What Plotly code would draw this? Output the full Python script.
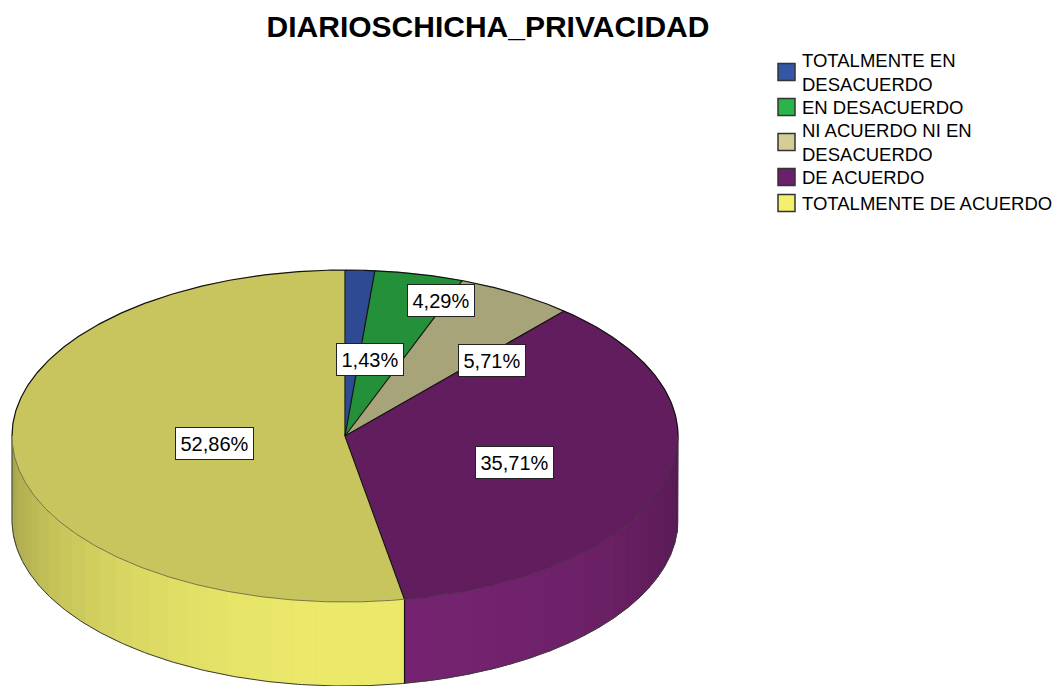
import numpy as np
import plotly.graph_objects as go

# ---------------- data ----------------
categories = ["TOTALMENTE EN DESACUERDO", "EN DESACUERDO", "NI ACUERDO NI EN DESACUERDO",
              "DE ACUERDO", "TOTALMENTE DE ACUERDO"]
legend_labels = ["TOTALMENTE EN<br>DESACUERDO", "EN DESACUERDO", "NI ACUERDO NI EN<br>DESACUERDO",
                 "DE ACUERDO", "TOTALMENTE DE ACUERDO"]
percentages = [1.43, 4.29, 5.71, 35.71, 52.86]
title_text = "DIARIOSCHICHA_PRIVACIDAD"

# ---------------- style ----------------
top_colors = ["#2e4a93", "#24913a", "#a8a47a", "#621d5e", "#c9c55e"]
legend_colors = ["#3457a8", "#2bb44a", "#d4ce96", "#6b1f6c", "#f3f06c"]
side_base = [(57, 92, 180), (44, 176, 72), (206, 200, 150), (118, 36, 113), (236, 233, 107)]
label_pos = [(370, 359), (441, 300), (492, 360), (514, 462), (214, 443)]
legend_centers = [72, 107, 142, 177, 203]
FONT = "Liberation Sans, Arial, sans-serif"

# page has an 8px body margin: make figure coordinates equal page pixel coordinates
OFF = 8
PW, PH = 1063, 686
W, H = PW - OFF, PH - OFF
CX, CY, RX, RY, DEPTH = 345, 436, 333, 166, 84


def pt(t_deg, dy=0.0):
    t = np.radians(t_deg)
    return CX + RX * np.sin(t), CY - RY * np.cos(t) + dy


def arc(t0, t1, dy=0.0, step=0.5):
    n = max(2, int(abs(t1 - t0) / step) + 1)
    ts = np.linspace(t0, t1, n)
    x, y = pt(ts, dy)
    return list(x), list(y)


fig = go.Figure()

vals = np.array(percentages, dtype=float)
cum = np.concatenate([[0], np.cumsum(vals)]) / vals.sum() * 360.0

# ---- side walls (front half, 90..270 deg clockwise from top) ----
for i in range(len(vals)):
    lo, hi = max(cum[i], 90.0), min(cum[i + 1], 270.0)
    if hi <= lo:
        continue
    nstrip = int(np.ceil((hi - lo) / 4.0))
    edges = np.linspace(lo, hi, nstrip + 1)
    for k in range(nstrip):
        a, b = edges[k], min(edges[k + 1] + 0.4, hi)
        tm = 0.5 * (edges[k] + edges[k + 1])
        f = 0.70 + 0.30 * np.cos(np.radians(tm - 178.0))
        r, g, bl = [int(min(255, c * f)) for c in side_base[i]]
        col = f"rgb({r},{g},{bl})"
        xt, yt = arc(a, b)
        xb, yb = arc(b, a, DEPTH)
        fig.add_trace(go.Scatter(x=xt + xb + [xt[0]], y=yt + yb + [yt[0]], mode="lines",
                                 fill="toself", fillcolor=col, line=dict(color=col, width=0.6),
                                 hoverinfo="skip", showlegend=False))

# side outline
xr, yr = pt(90.0)
xl, yl = pt(270.0)
xb, yb = arc(90.0, 270.0, DEPTH)
fig.add_trace(go.Scatter(x=[xr] + xb + [xl], y=[yr] + yb + [yl], mode="lines",
                         line=dict(color="#3a3a3a", width=1), hoverinfo="skip", showlegend=False))
# seams between slices on the side
for c in cum:
    cc = c % 360
    if 90.0 < cc < 270.0:
        x0, y0 = pt(cc)
        fig.add_trace(go.Scatter(x=[x0, x0], y=[y0, y0 + DEPTH], mode="lines",
                                 line=dict(color="#111111", width=1.2), hoverinfo="skip",
                                 showlegend=False))

# ---- top face slices ----
for i in range(len(vals)):
    xa, ya = arc(cum[i], cum[i + 1])
    fig.add_trace(go.Scatter(x=[CX] + xa + [CX], y=[CY] + ya + [CY], mode="lines",
                             fill="toself", fillcolor=top_colors[i],
                             line=dict(color=top_colors[i], width=0.5),
                             name=categories[i], hoverinfo="skip", showlegend=False))

# front edge of top face (soft) and back edge (dark)
xf, yf = arc(90.0, 270.0)
fig.add_trace(go.Scatter(x=xf, y=yf, mode="lines", line=dict(color="rgba(50,50,50,0.55)", width=1),
                         hoverinfo="skip", showlegend=False))
xk, yk = arc(-90.0, 90.0)
fig.add_trace(go.Scatter(x=xk, y=yk, mode="lines", line=dict(color="#111111", width=1.2),
                         hoverinfo="skip", showlegend=False))
# radial boundaries
for c in cum[:-1]:
    x1, y1 = pt(c)
    fig.add_trace(go.Scatter(x=[CX, x1], y=[CY, y1], mode="lines",
                             line=dict(color="#111111", width=1.2), hoverinfo="skip",
                             showlegend=False))

# ---- value labels ----
for i, v in enumerate(percentages):
    txt = f"{v:.2f}".replace(".", ",") + "%"
    fig.add_annotation(x=label_pos[i][0], y=label_pos[i][1], xref="x", yref="y", text=txt,
                       showarrow=False, bgcolor="white", bordercolor="#222222", borderwidth=1,
                       borderpad=4.5, font=dict(family=FONT, size=20, color="black"))

# ---- legend ----
for i, lab in enumerate(legend_labels):
    yc = legend_centers[i]
    fig.add_shape(type="rect", xref="x", yref="y", x0=778, x1=795, y0=yc - 8.5, y1=yc + 8.5,
                  fillcolor=legend_colors[i], line=dict(color="#333333", width=1.5))
    fig.add_annotation(x=800, y=yc, xref="x", yref="y", text=lab, showarrow=False,
                       xanchor="left", yanchor="middle", align="left",
                       font=dict(family=FONT, size=18.5, color="black"))

fig.update_layout(
    width=W, height=H,
    margin=dict(l=0, r=0, t=0, b=0, pad=0),
    paper_bgcolor="white", plot_bgcolor="white",
    title=dict(text=title_text, x=(488 - OFF) / W, xanchor="center", xref="container",
               y=1 - (26 - OFF) / H, yanchor="middle", yref="container",
               font=dict(family=FONT, size=30, color="black", weight="bold")),
    xaxis=dict(range=[OFF, PW], visible=False, fixedrange=True),
    yaxis=dict(range=[PH, OFF], visible=False, fixedrange=True),
    showlegend=False,
)

fig.write_html("out.html")
